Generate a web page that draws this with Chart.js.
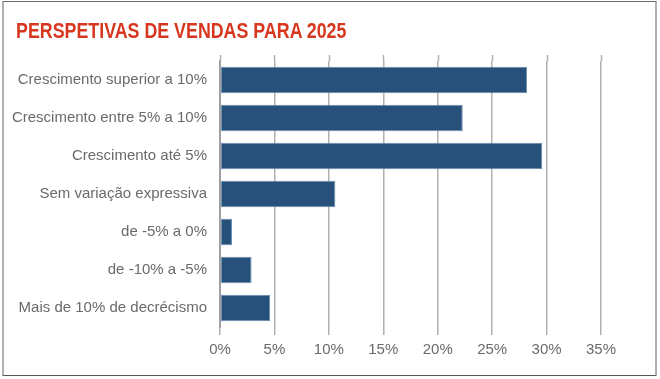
<!DOCTYPE html>
<html>
<head>
<meta charset="utf-8">
<script src="https://cdn.jsdelivr.net/npm/chart.js@4/dist/chart.umd.min.js"></script>
<style>
  html, body { margin: 0; padding: 0; background: #fff; }
  #wrap { position: relative; width: 660px; height: 379px; }
  #frame { position: absolute; left: 2px; top: 1px; width: 651px; height: 373px;
           border-top: 1px solid #6a6a6a; border-bottom: 1px solid #555;
           border-left: 2px solid #b0b0b0; border-right: 2px solid #b0b0b0; pointer-events: none; }
  #title { position: absolute; left: 16px; top: 19.5px; margin: 0; white-space: nowrap;
           font-family: 'Liberation Sans', Arial, sans-serif; font-weight: bold; font-size: 22px;
           line-height: 22px; color: #d7371f; transform: scaleX(0.81); transform-origin: 0 0; }
  canvas { position: absolute; left: 0; top: 0; }
</style>
</head>
<body>
<div id="wrap">
  <canvas id="c" width="660" height="379"></canvas>
  <div id="title"></div>
  <div id="frame"></div>
</div>
<script>
const chartTitle = 'PERSPETIVAS DE VENDAS PARA 2025';
const categories = [
  'Crescimento superior a 10%',
  'Crescimento entre 5% a 10%',
  'Crescimento até 5%',
  'Sem variação expressiva',
  'de -5% a 0%',
  'de -10% a -5%',
  'Mais de 10% de decrécismo'
];
const values = [28.2, 22.3, 29.6, 10.6, 1.1, 2.9, 4.6];
const xTicks = [0, 5, 10, 15, 20, 25, 30, 35];

document.getElementById('title').textContent = chartTitle;

const gridTopExt = {
  id: 'gridTopExt',
  beforeDatasetsDraw(chart) {
    const s = chart.scales.x, a = chart.chartArea, ctx = chart.ctx;
    ctx.save();
    ctx.strokeStyle = '#b0b0b0';
    ctx.lineWidth = 1.5;
    xTicks.forEach(v => {
      const x = Math.round(s.getPixelForValue(v)) + 0.5;
      ctx.beginPath();
      ctx.moveTo(x, a.top - 6);
      ctx.lineTo(x, a.top);
      ctx.stroke();
    });
    ctx.restore();
  }
};

new Chart(document.getElementById('c'), {
  type: 'bar',
  data: {
    labels: categories,
    datasets: [{
      data: values,
      backgroundColor: '#27507a',
      borderColor: '#6a8bb0',
      borderWidth: 1,
      borderSkipped: false,
      barPercentage: 0.7,
      categoryPercentage: 1.0
    }]
  },
  options: {
    indexAxis: 'y',
    responsive: false,
    animation: false,
    devicePixelRatio: 1,
    layout: { padding: { left: 4, right: 59, top: 61, bottom: 14 } },
    plugins: {
      legend: { display: false },
      tooltip: { enabled: false },
      title: { display: false, text: chartTitle }
    },
    scales: {
      x: {
        min: 0, max: 35,
        afterBuildTicks: s => { s.ticks = xTicks.map(v => ({ value: v })); },
        grid: { color: '#b0b0b0', lineWidth: 1.5, drawTicks: true, tickLength: 8 },
        border: { display: false },
        ticks: {
          padding: 6,
          color: '#6a6a6a',
          font: { family: "'Liberation Sans', Arial, sans-serif", size: 15 },
          callback: v => v + '%'
        }
      },
      y: {
        afterFit: s => { s.width = 216; },
        grid: { display: false, drawTicks: false },
        border: { display: true, color: '#a0a0a0', width: 2 },
        ticks: {
          padding: 13,
          color: '#6a6a6a',
          font: { family: "'Liberation Sans', Arial, sans-serif", size: 15 }
        }
      }
    }
  },
  plugins: [gridTopExt]
});
</script>
</body>
</html>
